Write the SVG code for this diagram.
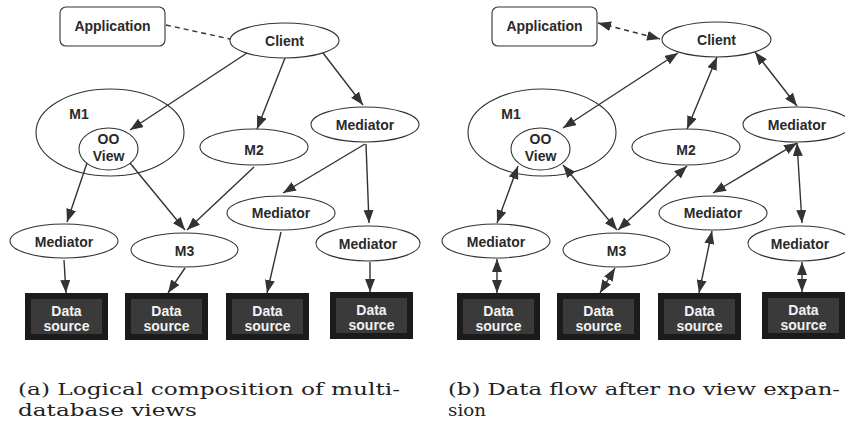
<svg xmlns="http://www.w3.org/2000/svg" width="845" height="433" viewBox="0 0 845 433">
<style>
.nd{fill:#fff;stroke:#333;stroke-width:1.1}
.lb{font-family:"Liberation Sans",Arial,sans-serif;font-weight:bold;font-size:14px;fill:#2a2a2a;text-anchor:middle}
.dso{fill:#1b1b1b}
.dsi{fill:#3a3a3a}
.dst{font-family:"Liberation Sans",Arial,sans-serif;font-weight:bold;font-size:14px;fill:#f2f2f2;text-anchor:middle}
.ln{stroke:#333;stroke-width:1.4;fill:none}
.one{marker-end:url(#ah)}
.two{marker-end:url(#ah);marker-start:url(#ah)}
.dash{stroke-dasharray:5 4}
.cap{font-family:"DejaVu Serif","Liberation Serif",serif;font-size:17px;fill:#222}
</style>
<defs>
<marker id="ah" markerUnits="userSpaceOnUse" markerWidth="13" markerHeight="10" refX="13" refY="5" orient="auto-start-reverse">
<path d="M0,0 L13,5 L0,10 z" fill="#333"/>
</marker>
</defs>
<rect width="845" height="433" fill="#fff"/>

<!-- Left panel nodes -->
<g id="app-a"><rect class="nd" x="60" y="7" width="105" height="39" rx="6"/><text class="lb" x="112.5" y="31">Application</text></g>
<g id="client-a"><ellipse class="nd" cx="284.5" cy="40.5" rx="54.5" ry="17.5"/><text class="lb" x="284.5" y="46">Client</text></g>
<g id="m1-a"><ellipse class="nd" cx="110" cy="132.5" rx="74" ry="43.5"/><text class="lb" x="79" y="119">M1</text></g>
<g id="oo-a"><ellipse class="nd" cx="108.5" cy="149" rx="29.5" ry="21"/><text class="lb" x="108.5" y="144">OO</text><text class="lb" x="108.5" y="161">View</text></g>
<g id="m2-a"><ellipse class="nd" cx="254" cy="147" rx="54" ry="18"/><text class="lb" x="254" y="155">M2</text></g>
<g id="medtop-a"><ellipse class="nd" cx="365" cy="124.5" rx="54" ry="17.5"/><text class="lb" x="365" y="130">Mediator</text></g>
<g id="medl-a"><ellipse class="nd" cx="64" cy="241" rx="54" ry="17"/><text class="lb" x="64" y="247">Mediator</text></g>
<g id="m3-a"><ellipse class="nd" cx="184.5" cy="250" rx="53.5" ry="17"/><text class="lb" x="184.5" y="256">M3</text></g>
<g id="medm-a"><ellipse class="nd" cx="281" cy="213" rx="54" ry="17"/><text class="lb" x="281" y="218">Mediator</text></g>
<g id="medr-a"><ellipse class="nd" cx="368" cy="243.5" rx="52" ry="17.5"/><text class="lb" x="368" y="249">Mediator</text></g>
<g id="ds1-a"><rect class="dso" x="25" y="293" width="83" height="47"/><rect class="dsi" x="31" y="299" width="71" height="35"/><text class="dst" x="66.5" y="315.5">Data</text><text class="dst" x="66.5" y="331">source</text></g>
<g id="ds2-a"><rect class="dso" x="125" y="293" width="83" height="47"/><rect class="dsi" x="131" y="299" width="71" height="35"/><text class="dst" x="166.5" y="315.5">Data</text><text class="dst" x="166.5" y="331">source</text></g>
<g id="ds3-a"><rect class="dso" x="226" y="293" width="83" height="47"/><rect class="dsi" x="232" y="299" width="71" height="35"/><text class="dst" x="267.5" y="315.5">Data</text><text class="dst" x="267.5" y="331">source</text></g>
<g id="ds4-a"><rect class="dso" x="330" y="292" width="83" height="47"/><rect class="dsi" x="336" y="298" width="71" height="35"/><text class="dst" x="371.5" y="314.5">Data</text><text class="dst" x="371.5" y="330">source</text></g>

<!-- Right panel nodes -->
<g id="app-b"><rect class="nd" x="492" y="7" width="105" height="39" rx="6"/><text class="lb" x="544.5" y="31">Application</text></g>
<g id="client-b"><ellipse class="nd" cx="716.5" cy="39.5" rx="54.5" ry="17.5"/><text class="lb" x="716.5" y="45">Client</text></g>
<g id="m1-b"><ellipse class="nd" cx="542" cy="132.5" rx="74" ry="43.5"/><text class="lb" x="511" y="119">M1</text></g>
<g id="oo-b"><ellipse class="nd" cx="540.5" cy="149" rx="29.5" ry="21"/><text class="lb" x="540.5" y="144">OO</text><text class="lb" x="540.5" y="161">View</text></g>
<g id="m2-b"><ellipse class="nd" cx="686" cy="147" rx="54" ry="18"/><text class="lb" x="686" y="155">M2</text></g>
<g id="medtop-b"><ellipse class="nd" cx="797" cy="124.5" rx="54" ry="17.5"/><text class="lb" x="797" y="130">Mediator</text></g>
<g id="medl-b"><ellipse class="nd" cx="496" cy="241" rx="54" ry="17"/><text class="lb" x="496" y="247">Mediator</text></g>
<g id="m3-b"><ellipse class="nd" cx="616.5" cy="250" rx="53.5" ry="17"/><text class="lb" x="616.5" y="256">M3</text></g>
<g id="medm-b"><ellipse class="nd" cx="713" cy="213" rx="54" ry="17"/><text class="lb" x="713" y="218">Mediator</text></g>
<g id="medr-b"><ellipse class="nd" cx="800" cy="243.5" rx="52" ry="17.5"/><text class="lb" x="800" y="249">Mediator</text></g>
<g id="ds1-b"><rect class="dso" x="457" y="293" width="83" height="47"/><rect class="dsi" x="463" y="299" width="71" height="35"/><text class="dst" x="498.5" y="315.5">Data</text><text class="dst" x="498.5" y="331">source</text></g>
<g id="ds2-b"><rect class="dso" x="557" y="293" width="83" height="47"/><rect class="dsi" x="563" y="299" width="71" height="35"/><text class="dst" x="598.5" y="315.5">Data</text><text class="dst" x="598.5" y="331">source</text></g>
<g id="ds3-b"><rect class="dso" x="658" y="293" width="83" height="47"/><rect class="dsi" x="664" y="299" width="71" height="35"/><text class="dst" x="699.5" y="315.5">Data</text><text class="dst" x="699.5" y="331">source</text></g>
<g id="ds4-b"><rect class="dso" x="762" y="292" width="83" height="47"/><rect class="dsi" x="768" y="298" width="71" height="35"/><text class="dst" x="803.5" y="314.5">Data</text><text class="dst" x="803.5" y="330">source</text></g>

<!-- Connectors -->
<g id="connectors">
<line class="ln dash" x1="166" y1="25" x2="230" y2="39"/>
<line class="ln one" x1="247" y1="53" x2="130" y2="130"/>
<line class="ln one" x1="285" y1="58" x2="257" y2="129"/>
<line class="ln one" x1="323" y1="53" x2="363" y2="105"/>
<line class="ln one" x1="87" y1="163" x2="67" y2="222"/>
<line class="ln one" x1="130" y1="163" x2="185" y2="230"/>
<line class="ln one" x1="254" y1="167" x2="187" y2="230"/>
<line class="ln one" x1="365" y1="144" x2="283" y2="193"/>
<line class="ln one" x1="366" y1="144" x2="369" y2="223"/>
<line class="ln one" x1="64" y1="260" x2="66" y2="293"/>
<line class="ln one" x1="185" y1="268" x2="168" y2="293"/>
<line class="ln one" x1="281" y1="232" x2="267" y2="293"/>
<line class="ln one" x1="370" y1="262" x2="370" y2="292"/>

<line class="ln two dash" x1="598" y1="23" x2="660" y2="39"/>
<line class="ln two" x1="678" y1="53" x2="563" y2="128"/>
<line class="ln two" x1="717" y1="57" x2="687" y2="129"/>
<line class="ln two" x1="755" y1="52" x2="797" y2="106"/>
<line class="ln two" x1="518" y1="166" x2="497" y2="223"/>
<line class="ln two" x1="563" y1="165" x2="617" y2="230"/>
<line class="ln two" x1="687" y1="166" x2="618" y2="230"/>
<line class="ln two" x1="797" y1="143" x2="713" y2="193"/>
<line class="ln two" x1="797" y1="143" x2="802" y2="223"/>
<line class="ln two" x1="497" y1="259" x2="497" y2="293"/>
<line class="ln two" x1="615" y1="268" x2="600" y2="293"/>
<line class="ln two" x1="712" y1="231" x2="699" y2="293"/>
<line class="ln two" x1="802" y1="262" x2="802" y2="292"/>
</g>

<!-- Captions -->
<text class="cap" x="18" y="395" textLength="382" lengthAdjust="spacingAndGlyphs">(a) Logical composition of multi-</text>
<text class="cap" x="18" y="416" textLength="179" lengthAdjust="spacingAndGlyphs">database views</text>
<text class="cap" x="448" y="395" textLength="392" lengthAdjust="spacingAndGlyphs">(b) Data flow after no view expan-</text>
<text class="cap" x="448" y="416" textLength="38" lengthAdjust="spacingAndGlyphs">sion</text>
</svg>
